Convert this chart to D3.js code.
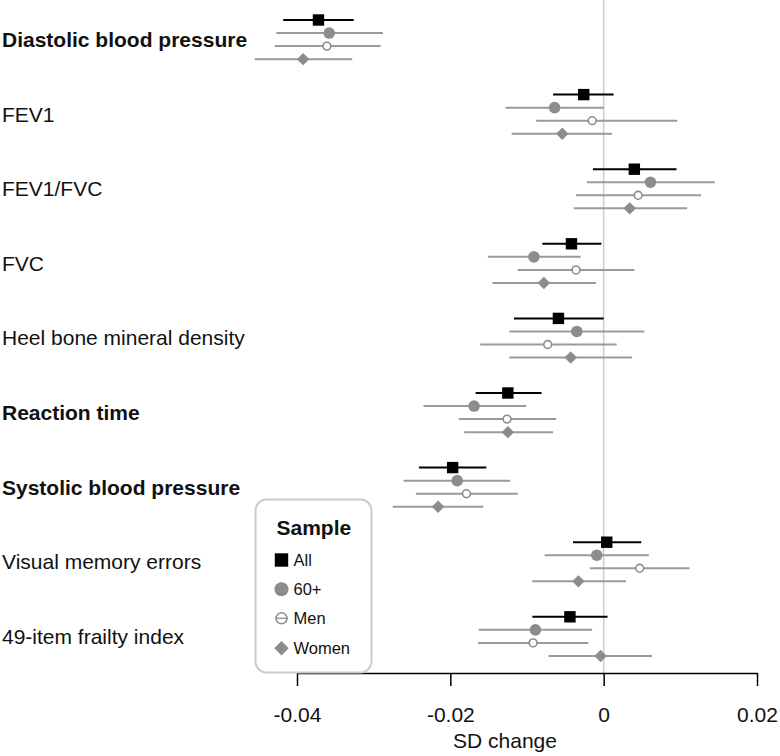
<!DOCTYPE html>
<html><head><meta charset="utf-8">
<script src="https://cdn.jsdelivr.net/npm/d3@7"></script>
<style>
html,body{margin:0;padding:0;background:#fff;}
svg{display:block;font-family:"Liberation Sans",Arial,Helvetica,sans-serif;}
</style></head>
<body>
<svg id="chart" width="780" height="756"></svg>
<script>
const categories = ["Diastolic blood pressure","FEV1","FEV1/FVC","FVC","Heel bone mineral density","Reaction time","Systolic blood pressure","Visual memory errors","49-item frailty index"];
const boldCategories = ["Diastolic blood pressure","Reaction time","Systolic blood pressure"];
const samples = ["All","60+","Men","Women"];

const allEst = [-0.0372,-0.0026,0.0040,-0.0042,-0.0059,-0.0125,-0.0197,0.0004,-0.0044];
const allLo  = [-0.0418,-0.0066,-0.0014,-0.0080,-0.0117,-0.0167,-0.0241,-0.0040,-0.0093];
const allHi  = [-0.0326,0.0013,0.0095,-0.0003,0.0000,-0.0081,-0.0153,0.0049,0.0005];

const oldEst = [-0.0358,-0.0064,0.0061,-0.0091,-0.0035,-0.0169,-0.0191,-0.0009,-0.0089];
const oldLo  = [-0.0427,-0.0128,-0.0022,-0.0151,-0.0123,-0.0235,-0.0261,-0.0077,-0.0163];
const oldHi  = [-0.0288,0.0000,0.0145,-0.0030,0.0053,-0.0101,-0.0122,0.0059,-0.0015];

const menEst = [-0.0361,-0.0015,0.0045,-0.0036,-0.0073,-0.0126,-0.0179,0.0047,-0.0092];
const menLo  = [-0.0429,-0.0088,-0.0036,-0.0112,-0.0161,-0.0189,-0.0245,-0.0018,-0.0164];
const menHi  = [-0.0291,0.0096,0.0127,0.0040,0.0017,-0.0062,-0.0112,0.0112,-0.0020];

const womenEst = [-0.0392,-0.0054,0.0034,-0.0078,-0.0043,-0.0125,-0.0216,-0.0033,-0.0004];
const womenLo  = [-0.0455,-0.0120,-0.0039,-0.0145,-0.0123,-0.0182,-0.0275,-0.0093,-0.0072];
const womenHi  = [-0.0328,0.0011,0.0109,-0.0010,0.0037,-0.0066,-0.0157,0.0029,0.0063];

const xTicks = [-0.04,-0.02,0,0.02];
const xTickLabels = ["-0.04","-0.02","0","0.02"];
const xTitle = "SD change";
const legendTitle = "Sample";

const seriesData = [
  {name:"All", est:allEst, lo:allLo, hi:allHi},
  {name:"60+", est:oldEst, lo:oldLo, hi:oldHi},
  {name:"Men", est:menEst, lo:menLo, hi:menHi},
  {name:"Women", est:womenEst, lo:womenLo, hi:womenHi}
];

const GRAY = "#8c8c8c", LINEGRAY = "#9a9a9a";
const style = {
  "All":  {line:"#000"},
  "60+":  {line:LINEGRAY},
  "Men":  {line:LINEGRAY},
  "Women":{line:LINEGRAY}
};

const svg = d3.select("#chart");
const x = d3.scaleLinear().domain([-0.04,0.02]).range([297,757]);
const yGroup = d3.scalePoint().domain(categories).range([20,616.8]);
const yOff = d3.scaleLinear().domain([0,3]).range([0,39.15]);
const rowY = (cat, si) => yGroup(cat) + yOff(si);

// zero reference line
svg.append("line").attr("x1",x(0)).attr("x2",x(0)).attr("y1",0).attr("y2",673)
  .attr("stroke","#cccccc").attr("stroke-width",1.5);

// x axis
const axis = d3.axisBottom(x).tickValues(xTicks).tickSize(13).tickSizeOuter(0)
  .tickFormat((d,i)=>xTickLabels[i]);
const gx = svg.append("g").attr("transform","translate(0,673)").call(axis);
gx.select(".domain").attr("stroke","#000").attr("stroke-width",1.5);
gx.selectAll(".tick line").attr("stroke","#000").attr("stroke-width",1.5);
gx.selectAll(".tick text").attr("font-size",21).attr("fill","#111")
  .attr("font-family","Liberation Sans, Arial, sans-serif").attr("y",49).attr("dy",0);
svg.append("text").attr("x",505).attr("y",748).attr("text-anchor","middle")
  .attr("font-size",21).attr("fill","#111").text(xTitle);

// category labels
svg.append("g").selectAll("text").data(categories).join("text")
  .attr("x",2).attr("y",d=>yGroup(d)+yOff(1.5)+7.5)
  .attr("font-size",21).attr("fill","#111")
  .attr("font-weight",d=>boldCategories.includes(d)?"bold":"normal")
  .text(d=>d);

function drawMarker(g, name, cx, cy){
  if(name==="All"){
    g.append("rect").attr("x",cx-5.7).attr("y",cy-5.7).attr("width",11.4).attr("height",11.4).attr("fill","#000");
  } else if(name==="60+"){
    g.append("circle").attr("cx",cx).attr("cy",cy).attr("r",5.8).attr("fill",GRAY);
  } else if(name==="Men"){
    g.append("circle").attr("cx",cx).attr("cy",cy).attr("r",3.9).attr("fill","#fff").attr("stroke",GRAY).attr("stroke-width",1.6);
  } else {
    const r = 6.2;
    g.append("path").attr("d",`M${cx},${cy-r}L${cx+r},${cy}L${cx},${cy+r}L${cx-r},${cy}Z`).attr("fill",GRAY);
  }
}
const marks = svg.append("g");
seriesData.forEach((s,si)=>{
  categories.forEach((c,ci)=>{
    const yy = rowY(c,si);
    marks.append("line").attr("x1",x(s.lo[ci])).attr("x2",x(s.hi[ci]))
      .attr("y1",yy).attr("y2",yy)
      .attr("stroke",style[s.name].line).attr("stroke-width",2);
  });
});
seriesData.forEach((s,si)=>{
  categories.forEach((c,ci)=>{
    drawMarker(marks, s.name, x(s.est[ci]), rowY(c,si));
  });
});

// legend
const lg = svg.append("g");
lg.append("rect").attr("x",255.5).attr("y",499.5).attr("width",116).attr("height",173)
  .attr("rx",11).attr("ry",11).attr("fill","#fff").attr("stroke","#cccccc").attr("stroke-width",2);
lg.append("text").attr("x",276.5).attr("y",534.5).attr("font-size",21).attr("font-weight","bold")
  .attr("fill","#111").text(legendTitle);
const legendY = [560,589.3,618.3,648.3];
samples.forEach((name,i)=>{
  const cy = legendY[i], cx = 281.5;
  lg.append("line").attr("x1",cx-6.5).attr("x2",cx+6.5).attr("y1",cy).attr("y2",cy)
    .attr("stroke",style[name].line).attr("stroke-width",1.5);
  if(name==="All"){
    lg.append("rect").attr("x",cx-6.7).attr("y",cy-6.7).attr("width",13.4).attr("height",13.4).attr("fill","#000");
  } else if(name==="60+"){
    lg.append("circle").attr("cx",cx).attr("cy",cy).attr("r",7).attr("fill",GRAY);
  } else if(name==="Men"){
    lg.append("circle").attr("cx",cx).attr("cy",cy).attr("r",5.5).attr("fill","none").attr("stroke",GRAY).attr("stroke-width",1.5);
  } else {
    const r=7.2;
    lg.append("path").attr("d",`M${cx},${cy-r}L${cx+r},${cy}L${cx},${cy+r}L${cx-r},${cy}Z`).attr("fill",GRAY);
  }
  lg.append("text").attr("x",293.5).attr("y",cy+6).attr("font-size",16.5).attr("fill","#111").text(name);
});
</script>
</body></html>
